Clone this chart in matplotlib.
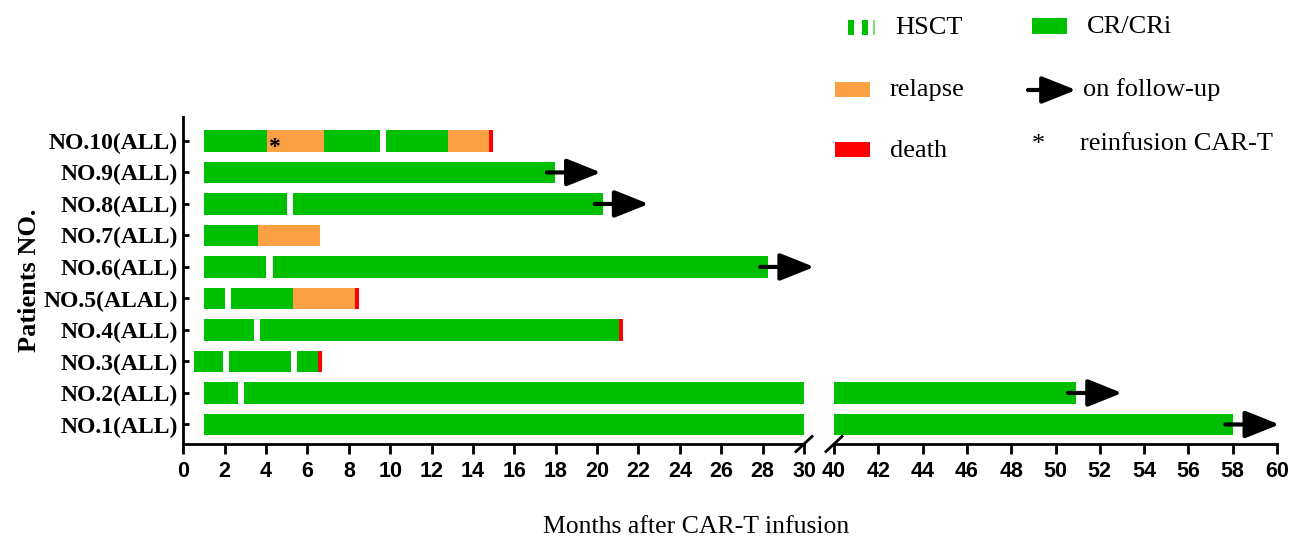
import matplotlib
matplotlib.use("Agg")
import matplotlib.pyplot as plt
from matplotlib.patches import Rectangle
from matplotlib.transforms import offset_copy

SERIF = "Liberation Serif"
SANS = "Liberation Sans"

GREEN = "#00bf00"
ORANGE = "#fba043"
RED = "#ff0000"

PATIENTS = ["NO.1(ALL)", "NO.2(ALL)", "NO.3(ALL)", "NO.4(ALL)", "NO.5(ALAL)",
            "NO.6(ALL)", "NO.7(ALL)", "NO.8(ALL)", "NO.9(ALL)", "NO.10(ALL)"]

# (start, end) in months, one list per patient, bottom to top
CR_SPANS = [
    [(1.0, 58.03)],
    [(1.0, 2.63), (2.92, 50.93)],
    [(0.53, 1.92), (2.22, 5.21), (5.51, 6.50)],
    [(1.0, 3.40), (3.72, 21.07)],
    [(1.0, 2.02), (2.32, 5.32)],
    [(1.0, 4.01), (4.32, 28.27)],
    [(1.0, 3.63)],
    [(1.0, 5.0), (5.32, 20.27)],
    [(1.0, 17.96)],
    [(1.0, 4.03), (6.80, 9.51), (9.81, 12.81)],
]
RELAPSE_SPANS = [[], [], [], [], [(5.32, 8.30)], [], [(3.63, 6.59)], [], [],
                 [(4.03, 6.80), (12.81, 14.79)]]
DEATH_SPANS = [[], [], [(6.50, 6.70)], [(21.07, 21.27)], [(8.30, 8.51)], [], [],
               [], [], [(14.79, 14.98)]]

# still on follow-up: (patient index, last month)
FOLLOW_UP = [(0, 58.03), (1, 50.93), (5, 28.27), (7, 20.27), (8, 17.96)]
# reinfusion of CAR-T: (patient index, month)
REINFUSION = [(9, 4.4)]

LEFT_TICKS = list(range(0, 31, 2))
RIGHT_TICKS = list(range(40, 61, 2))

W, H = 1294, 541
BAR_H = 0.68
ARROW = dict(arrowstyle="-|>,head_length=1.05,head_width=0.42",
             mutation_scale=20, lw=3, color="black", shrinkA=0, shrinkB=0)

fig = plt.figure(figsize=(W / 100, H / 100), dpi=100)
ax_l = fig.add_axes([183.3 / W, 1 - 444 / H, (804 - 183.3) / W, (444 - 117) / H])
ax_r = fig.add_axes([834 / W, 1 - 444 / H, (1277 - 834) / W, (444 - 117) / H])
ax_l.set_xlim(0, 30)
ax_r.set_xlim(40, 60)

for ax in (ax_l, ax_r):
    ax.set_ylim(0.38, 10.76)
    for i in range(len(PATIENTS)):
        y = i + 1
        for spans, col in ((CR_SPANS, GREEN), (RELAPSE_SPANS, ORANGE), (DEATH_SPANS, RED)):
            if spans[i]:
                ax.broken_barh([(s, e - s) for s, e in spans[i]], (y - BAR_H / 2, BAR_H),
                               facecolors=col, edgecolor="none")
    lo, hi = ax.get_xlim()
    for i, end in FOLLOW_UP:
        if lo <= end <= hi:
            tip = offset_copy(ax.transData, fig=fig, x=46, y=0, units="dots")
            tail = offset_copy(ax.transData, fig=fig, x=-8, y=0, units="dots")
            ax.annotate("", xy=(end, i + 1), xycoords=tip,
                        xytext=(end, i + 1), textcoords=tail,
                        annotation_clip=False, arrowprops=ARROW)
    for i, m in REINFUSION:
        if lo <= m <= hi:
            ax.text(m, i + 1 - 0.22, "*", ha="center", va="center",
                    fontsize=17, family=SERIF, fontweight="bold")

    ax.set_xticks(LEFT_TICKS if ax is ax_l else RIGHT_TICKS)
    ax.tick_params(axis="x", direction="out", length=7, width=2, pad=5,
                   labelsize=15.5)
    for lab in ax.get_xticklabels():
        lab.set_family(SANS)
        lab.set_fontweight("bold")
    for side in ("top", "right"):
        ax.spines[side].set_visible(False)
    ax.spines["bottom"].set_linewidth(2)
    ax.patch.set_alpha(0)

ax_l.spines["left"].set_linewidth(2)
ax_l.set_yticks(range(1, len(PATIENTS) + 1))
ax_l.set_yticklabels(PATIENTS, family=SERIF, fontweight="bold", fontsize=17)
ax_l.tick_params(axis="y", direction="in", length=4.5, width=2, pad=4)
ax_r.spines["left"].set_visible(False)
ax_r.set_yticks([])

# axis break marks
for ax, x0 in ((ax_l, 1.0), (ax_r, 0.0)):
    pw = ax.get_position().width * W
    ph = ax.get_position().height * H
    dx, dy = 8 / pw, 7.5 / ph
    ax.plot([x0 - dx, x0 + dx], [-dy, dy], transform=ax.transAxes,
            color="black", lw=2, clip_on=False)

fig.text(30 / W, 1 - 280.5 / H, "Patients NO.", rotation=90, ha="center", va="center",
         family=SERIF, fontweight="bold", fontsize=19)
fig.text(696 / W, 1 - 527 / H, "Months after CAR-T infusion", ha="center", va="center",
         family=SERIF, fontsize=18.5)

# legend block, laid out in figure pixels (origin top-left)
leg = fig.add_axes([0, 0, 1, 1], zorder=-1)
leg.set_xlim(0, W)
leg.set_ylim(H, 0)
leg.axis("off")
for x0, x1, c in ((848, 853.5, GREEN), (862, 867.5, GREEN), (873, 875, "#7fdc7f")):
    leg.add_patch(Rectangle((x0, 20), x1 - x0, 15, color=c, lw=0))
leg.add_patch(Rectangle((1032, 18), 35, 16, color=GREEN, lw=0))
leg.add_patch(Rectangle((835, 82), 35, 15, color=ORANGE, lw=0))
leg.add_patch(Rectangle((835, 142), 35, 15, color=RED, lw=0))
leg.annotate("", xy=(1076, 90), xytext=(1028, 90), arrowprops=ARROW)
leg.text(1038, 145, "*", ha="center", va="center", family=SERIF, fontsize=19)
for x, y, s in ((895, 28, "HSCT"), (1087, 27, "CR/CRi"), (890, 90, "relapse"),
                (1083, 90, "on follow-up"), (890, 151, "death"),
                (1080, 144, "reinfusion CAR-T")):
    leg.text(x, y, s, ha="left", va="center", family=SERIF, fontsize=19)

fig.savefig("out.png", dpi=100)
